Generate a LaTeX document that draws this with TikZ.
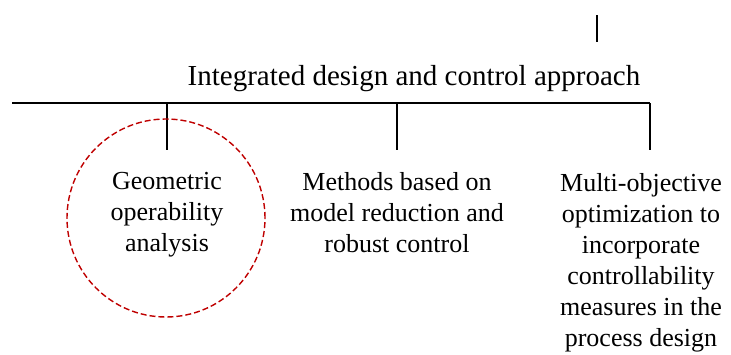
\documentclass[tikz,border=0pt]{standalone}
\usepackage{fontspec}
\setmainfont{Liberation Serif}
\usetikzlibrary{positioning}

\begin{document}
\begin{tikzpicture}[
    x=1pt, y=-1pt,
    font=\fontsize{26}{31}\selectfont,
    txt/.style={align=center, inner sep=0pt},
    bar/.style={line width=1.6pt, black},
    ringmark/.style={draw=red!75!black, dash pattern=on 6pt off 3pt,
                 line width=1.4pt, circle, minimum size=198pt, inner sep=0pt},
]
    \useasboundingbox (0,0) rectangle (731,354);

    %==================== TOP ====================
    \coordinate (stemtop) at (597,15);
    \coordinate (stembot) at (597,42);
    \draw[bar] (stemtop) -- (stembot);

    \node[txt, font=\fontsize{29}{34}\selectfont, anchor=base] (title) at (414,85)
        {Integrated design and control approach};

    %==================== branch line ====================
    \coordinate (left) at (12,103);
    \coordinate (right) at (650,103);
    \draw[bar] (left) -- (right);

    \coordinate (b1) at (167,103);
    \coordinate (b2) at (397,103);
    \coordinate (b3) at (650,103);
    \coordinate (e1) at (167,150);
    \coordinate (e2) at (397,150);
    \coordinate (e3) at (650,150);
    \draw[bar] (b1) -- (e1);
    \draw[bar] (b2) -- (e2);
    \draw[bar] (b3) -- (e3);

    %==================== branches ====================
    \node[ringmark] (ring) at (166,218) {};
    \node[txt, anchor=north] (geo) at (167,172)
        {Geometric\\ operability\\ analysis};
    \node[txt, anchor=north] (red) at (397,172)
        {Methods based on\\ model reduction and\\ robust control};
    \node[txt, anchor=north] (moo) at (641,173)
        {Multi-objective\\ optimization to\\ incorporate\\ controllability\\
         measures in the\\ process design};

\end{tikzpicture}
\end{document}
